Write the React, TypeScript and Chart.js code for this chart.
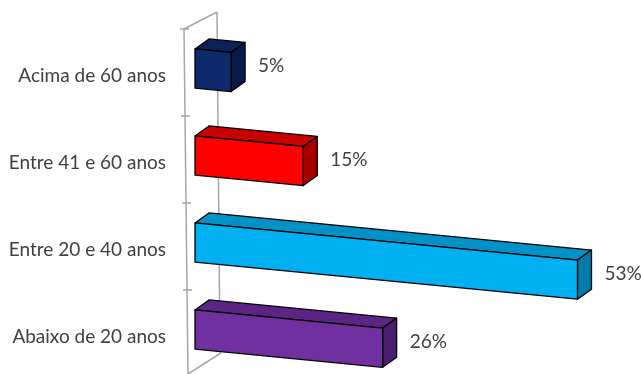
import { useEffect, useRef } from 'react';
import { Chart, registerables } from 'chart.js';

Chart.register(...registerables);

const categories = ['Acima de 60 anos', 'Entre 41 e 60 anos', 'Entre 20 e 40 anos', 'Abaixo de 20 anos'];
const values = [5, 15, 53, 26];
const valueLabels = ['5%', '15%', '53%', '26%'];
const frontColors = ['#0f2a6c', '#ff0000', '#00b0f0', '#7030a0'];
const topColors = ['#0a2159', '#c80000', '#0091c6', '#5b2485'];
const sideColors = ['#081a4a', '#a80000', '#007aa8', '#4b1d6e'];

const FONT = 'Lato, "Open Sans", sans-serif';
const TEXT = '#404040';
const FRAME = '#a6a6a6';
const SLOPE = 0.097;
const DX = 14;
const DY = -10;

const bar3d = {
  id: 'bar3d',
  beforeDatasetsDraw(chart: any) {
    const ctx = chart.ctx as CanvasRenderingContext2D;
    const area = chart.chartArea;
    const yScale = chart.scales.y;
    const half = (yScale.getPixelForValue(1) - yScale.getPixelForValue(0)) / 2;
    const top = yScale.getPixelForValue(0) - half + 4;
    const fx = area.left - 11;
    const bx = area.left + 22;
    const H = chart.height;
    ctx.save();
    ctx.strokeStyle = FRAME;
    ctx.lineWidth = 1.5;
    ctx.beginPath();
    ctx.moveTo(bx, top - 17);
    ctx.lineTo(bx + 3, H - 20);
    ctx.moveTo(fx + 4, H);
    ctx.lineTo(bx + 4, H - 21);
    ctx.moveTo(fx, top);
    ctx.lineTo(bx, top - 17);
    ctx.moveTo(fx, top);
    ctx.lineTo(fx + 4, H);
    for (let i = 0; i < categories.length; i++) {
      const ty = yScale.getPixelForValue(i) - half + 4;
      const tx = fx + ((ty - top) / (H - top)) * 4;
      ctx.moveTo(tx - 4, ty);
      ctx.lineTo(tx + 5, ty);
    }
    ctx.stroke();
    ctx.restore();
  },
  afterDatasetsDraw(chart: any) {
    const ctx = chart.ctx as CanvasRenderingContext2D;
    const meta = chart.getDatasetMeta(0);
    ctx.save();
    ctx.lineJoin = 'round';
    ctx.strokeStyle = '#000000';
    ctx.lineWidth = 1.3;
    meta.data.forEach((el: any, i: number) => {
      const x0 = el.base;
      const x1 = el.x;
      const h = el.height;
      const yT = el.y - h / 2;
      const yB = el.y + h / 2;
      const sh = SLOPE * (x1 - x0);
      const p1 = [x0, yT];
      const p2 = [x1, yT + sh];
      const p3 = [x1, yB + sh];
      const p4 = [x0, yB];
      const poly = (pts: number[][], fill: string) => {
        ctx.beginPath();
        ctx.moveTo(pts[0][0], pts[0][1]);
        for (let k = 1; k < pts.length; k++) ctx.lineTo(pts[k][0], pts[k][1]);
        ctx.closePath();
        ctx.fillStyle = fill;
        ctx.fill();
        ctx.stroke();
      };
      poly([p1, p2, [p2[0] + DX, p2[1] + DY], [p1[0] + DX, p1[1] + DY]], topColors[i]);
      poly([p2, [p2[0] + DX, p2[1] + DY], [p3[0] + DX, p3[1] + DY], p3], sideColors[i]);
      poly([p1, p2, p3, p4], frontColors[i]);
      ctx.fillStyle = TEXT;
      ctx.font = `19px ${FONT}`;
      ctx.textAlign = 'left';
      ctx.textBaseline = 'middle';
      ctx.fillText(valueLabels[i], x1 + 27, el.y + sh - 6);
    });
    ctx.restore();
  },
};

export default function App() {
  const ref = useRef<HTMLCanvasElement | null>(null);
  useEffect(() => {
    document.body.style.margin = '0';
    const canvas = ref.current;
    if (!canvas) return;
    const chart = new Chart(canvas, {
      type: 'bar',
      data: {
        labels: categories,
        datasets: [
          {
            data: values,
            backgroundColor: 'rgba(0,0,0,0)',
            borderWidth: 0,
            categoryPercentage: 1,
            barPercentage: 0.45,
          },
        ],
      },
      options: {
        indexAxis: 'y',
        responsive: false,
        animation: false,
        devicePixelRatio: 1,
        layout: { padding: { top: 25, bottom: 1, left: 0, right: 13 } },
        plugins: { legend: { display: false }, tooltip: { enabled: false } },
        scales: {
          x: { display: false, min: 0, max: 60 },
          y: {
            afterFit: (scale: any) => {
              scale.width = 195;
              scale.paddingTop = 0;
              scale.paddingBottom = 0;
            },
            grid: { display: false, drawTicks: false },
            border: { display: false },
            ticks: {
              padding: 29,
              labelOffset: 7,
              color: TEXT,
              font: { family: FONT, size: 19 },
            },
          },
        },
      },
      plugins: [bar3d],
    });
    return () => chart.destroy();
  }, []);
  return (
    <div style={{ position: 'absolute', left: 0, top: 0, width: 641, height: 374 }}>
      <canvas ref={ref} width={641} height={374} />
    </div>
  );
}
